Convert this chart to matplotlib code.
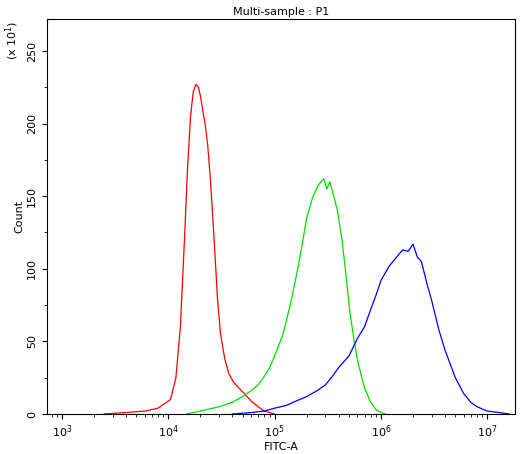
import matplotlib
matplotlib.use('Agg')
import matplotlib.pyplot as plt
import numpy as np

red_x = [2.5e3,4e3,6e3,8e3,1.05e4,1.18e4,1.3e4,1.42e4,1.52e4,1.62e4,1.72e4,1.82e4,1.92e4,2.02e4,2.12e4,2.22e4,2.35e4,2.5e4,2.7e4,2.9e4,3.1e4,3.4e4,3.7e4,4.1e4,4.6e4,5.2e4,6e4,7e4,8e4,1e5]
red_y = [0,1,2,4,10,25,60,120,170,205,222,227,225,218,208,200,185,160,120,80,55,38,28,22,18,14,9,5,2,0]
green_x = [1.5e4,2e4,3e4,4e4,5e4,6e4,7e4,8e4,9e4,1.0e5,1.2e5,1.4e5,1.6e5,1.8e5,2.0e5,2.3e5,2.6e5,2.9e5,3.1e5,3.3e5,3.6e5,3.9e5,4.3e5,4.7e5,5.1e5,5.6e5,6.1e5,7e5,8e5,9e5,1.0e6,1.1e6]
green_y = [0,2,5,8,12,16,20,26,32,40,55,75,95,115,135,150,158,162,155,160,150,140,120,95,70,50,35,18,8,3,1,0]
blue_x = [4e4,6e4,8e4,1e5,1.3e5,1.6e5,2e5,2.5e5,3e5,3.5e5,4e5,5e5,6e5,7e5,8e5,9e5,1.0e6,1.2e6,1.4e6,1.6e6,1.8e6,2.0e6,2.2e6,2.4e6,2.7e6,3e6,3.5e6,4e6,5e6,6e6,7e6,8e6,1e7,1.3e7,1.6e7]
blue_y = [0,1,2,4,6,9,12,16,20,26,32,40,52,60,72,82,92,102,108,113,112,117,108,105,90,78,58,44,25,14,8,5,2,1,0]

fig = plt.figure(figsize=(5.23,4.54), dpi=100)
ax = fig.add_axes([47/523, 1-414/454, 468/523, 395/454])
ax.plot(red_x, red_y, color='red', lw=0.9)
ax.plot(green_x, green_y, color='#00e000', lw=0.9)
ax.plot(blue_x, blue_y, color='blue', lw=0.9)
ax.set_xscale('log')
ax.set_xlim(10**2.86, 10**7.26)
ax.set_ylim(0, 272)
ax.set_yticks([0,50,100,150,200,250])
ax.set_yticks(np.arange(0,275,25), minor=True)
for lab in ax.get_yticklabels():
    lab.set_rotation(90); lab.set_va('center')
ax.tick_params(labelsize=8)
ax.set_title('Multi-sample : P1', fontsize=8, pad=3)
ax.set_xlabel('FITC-A', fontsize=8, labelpad=1)
ax.set_ylabel('Count', fontsize=8, labelpad=2)
fig.text(12/523, 1-40/454, '(x 10$^1$)', rotation=90, fontsize=8, ha='center', va='center')
fig.savefig('out.png', dpi=100)
